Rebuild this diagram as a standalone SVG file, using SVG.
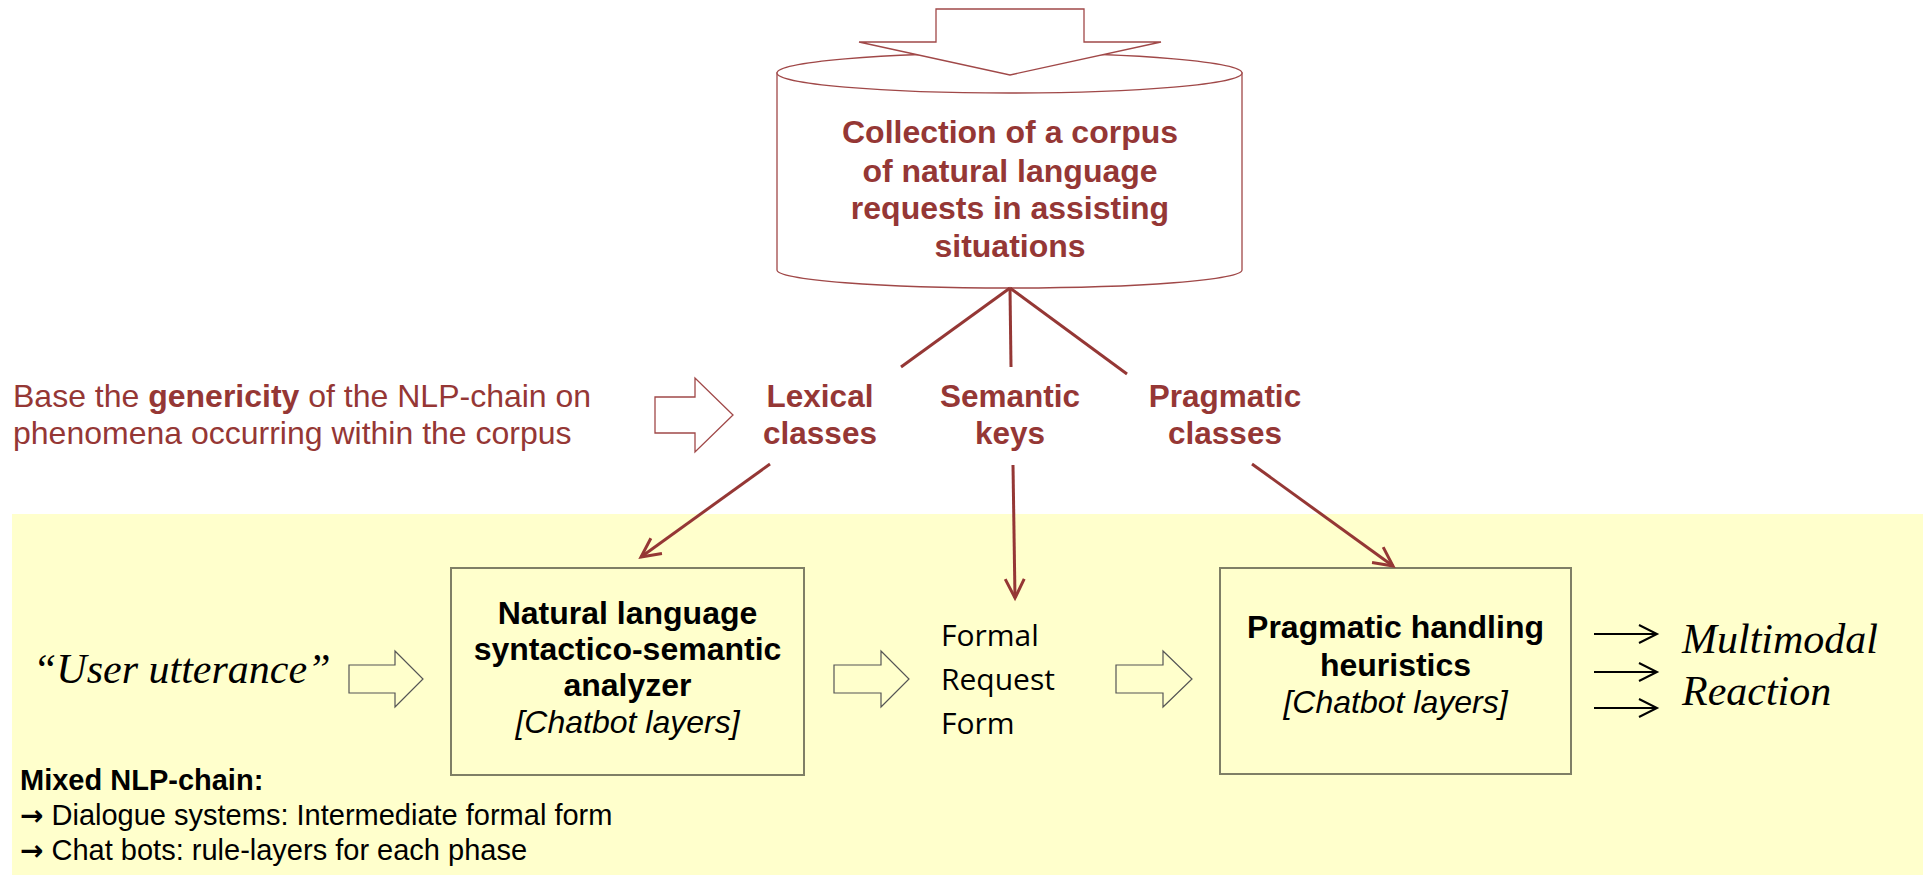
<svg xmlns="http://www.w3.org/2000/svg" width="1923" height="875" viewBox="0 0 1923 875">
<style>
.rt{font-family:"Liberation Sans",Arial,sans-serif;font-weight:bold;fill:#953735;text-anchor:middle}
.corp{font-size:32px}
.cls{font-size:31.5px}
.note{font-family:"Liberation Sans",Arial,sans-serif;font-size:32px;fill:#953735}
.bx{fill:#ffffcc;stroke:#7f7f66;stroke-width:2}
.bt{font-family:"Liberation Sans",Arial,sans-serif;font-size:32px;fill:#000;text-anchor:middle}
.b{font-weight:bold}
.i{font-style:italic}
.serif{font-family:"Liberation Serif","Times New Roman",serif;font-style:italic;font-size:42px;fill:#000}
.frf{font-family:"Open Sans","Noto Sans",sans-serif;font-size:30px;fill:#000}
.mix{font-family:"Liberation Sans",Arial,sans-serif;font-size:29px;fill:#000}
.arr{font-family:"DejaVu Sans",sans-serif;font-weight:bold;font-size:28px}
.hollow{fill:#ffffcc;stroke:#555;stroke-width:1.2}
.hollowr{fill:#fff;stroke:#a04848;stroke-width:1.3}
.conn{stroke:#953735;stroke-width:3;fill:none}
.blk{stroke:#000;stroke-width:2;fill:none}
</style>
<defs>
<marker id="ah" markerUnits="userSpaceOnUse" viewBox="-24 -14 28 28" markerWidth="28" markerHeight="28" refX="0" refY="0" orient="auto">
<path d="M-19,-9.5 L0,0 L-19,9.5" fill="none" stroke="#953735" stroke-width="3"/>
</marker>
<marker id="ahk" markerUnits="userSpaceOnUse" viewBox="-22 -14 26 28" markerWidth="26" markerHeight="28" refX="0" refY="0" orient="auto">
<path d="M-18,-9 L0,0 L-18,9" fill="none" stroke="#000" stroke-width="2"/>
</marker>
</defs>

<rect x="12" y="514" width="1911" height="361" fill="#ffffcc"/>

<g id="corpus">
<path d="M777,73 V270 A232.5,18 0 0 0 1242,270 V73 Z" fill="#fff" stroke="#a04848" stroke-width="1.3"/>
<ellipse cx="1009.5" cy="73" rx="232.5" ry="20" fill="#fff" stroke="#a04848" stroke-width="1.3"/>
<polygon class="hollowr" points="936,9 1084,9 1084,42 1161,42 1010,75 859,42 936,42"/>
<text class="rt corp" x="1010" y="143">Collection of a corpus</text>
<text class="rt corp" x="1010" y="182">of natural language</text>
<text class="rt corp" x="1010" y="219">requests in assisting</text>
<text class="rt corp" x="1010" y="257">situations</text>
</g>

<g id="genericity-note">
<text class="note" x="13" y="407">Base the <tspan font-weight="bold">genericity</tspan> of the NLP-chain on</text>
<text class="note" x="13" y="444">phenomena occurring within the corpus</text>
<polygon class="hollowr" points="655,397 695,397 695,378 733,415 695,452 695,433 655,433"/>
</g>

<g id="lexical-classes">
<text class="rt cls" x="820" y="407">Lexical</text>
<text class="rt cls" x="820" y="444">classes</text>
</g>
<g id="semantic-keys">
<text class="rt cls" x="1010" y="407">Semantic</text>
<text class="rt cls" x="1010" y="444">keys</text>
</g>
<g id="pragmatic-classes">
<text class="rt cls" x="1225" y="407">Pragmatic</text>
<text class="rt cls" x="1225" y="444">classes</text>
</g>

<g id="user-utterance">
<text class="serif" x="33" y="683">“User utterance”</text>
</g>

<g id="analyzer">
<rect class="bx" x="451" y="568" width="353" height="207"/>
<text class="bt b" x="627.5" y="624">Natural language</text>
<text class="bt b" x="627.5" y="660">syntactico-semantic</text>
<text class="bt b" x="627.5" y="696">analyzer</text>
<text class="bt i" x="627.5" y="733">[Chatbot layers]</text>
</g>

<g id="formal-request-form">
<text class="frf" x="941" y="646">Formal</text>
<text class="frf" x="941" y="690">Request</text>
<text class="frf" x="941" y="734">Form</text>
</g>

<g id="pragmatic-handling">
<rect class="bx" x="1220" y="568" width="351" height="206"/>
<text class="bt b" x="1395.5" y="638">Pragmatic handling</text>
<text class="bt b" x="1395.5" y="676">heuristics</text>
<text class="bt i" x="1395.5" y="713">[Chatbot layers]</text>
</g>

<g id="multimodal-reaction">
<text class="serif" x="1682" y="653">Multimodal</text>
<text class="serif" x="1682" y="705">Reaction</text>
</g>

<g id="mixed-nlp-chain">
<text class="mix b" x="20" y="790">Mixed NLP-chain:</text>
<text class="mix" x="20" y="825"><tspan class="arr">→</tspan> Dialogue systems: Intermediate formal form</text>
<text class="mix" x="20" y="860"><tspan class="arr">→</tspan> Chat bots: rule-layers for each phase</text>
</g>

<g id="connectors">
<line class="conn" x1="1010" y1="288" x2="901" y2="367"/>
<line class="conn" x1="1010" y1="288" x2="1011" y2="367"/>
<line class="conn" x1="1010" y1="288" x2="1127" y2="374"/>
<line class="conn" x1="770" y1="464" x2="641" y2="557" marker-end="url(#ah)"/>
<line class="conn" x1="1013" y1="465" x2="1015" y2="598" marker-end="url(#ah)"/>
<line class="conn" x1="1252" y1="464" x2="1393" y2="566" marker-end="url(#ah)"/>
<polygon class="hollow" points="349,665 395,665 395,651 423,679 395,707 395,693 349,693"/>
<polygon class="hollow" points="834,665 881,665 881,651 909,679 881,707 881,693 834,693"/>
<polygon class="hollow" points="1116,665 1163,665 1163,651 1192,679 1163,707 1163,693 1116,693"/>
<line class="blk" x1="1594" y1="634" x2="1657" y2="634" marker-end="url(#ahk)"/>
<line class="blk" x1="1594" y1="672" x2="1657" y2="672" marker-end="url(#ahk)"/>
<line class="blk" x1="1594" y1="708" x2="1657" y2="708" marker-end="url(#ahk)"/>
</g>
</svg>
